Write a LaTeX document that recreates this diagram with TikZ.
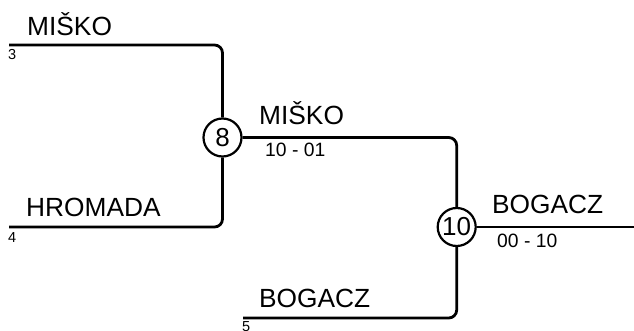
\documentclass[tikz,border=0pt]{standalone}
\usepackage{fontspec}
\setmainfont{Liberation Sans}
\begin{document}
\begin{tikzpicture}[x=1pt,y=-1pt,
  bracket/.style={line width=2.8pt,rounded corners=8pt},
  game/.style={circle,draw,line width=2.2pt,minimum size=38pt,inner sep=0pt,font=\fontsize{26}{26}\selectfont},
  player/.style={anchor=base west,inner sep=0pt,font=\fontsize{26.3}{27}\selectfont},
  score/.style={anchor=base west,inner sep=0pt,font=\fontsize{19.3}{20}\selectfont},
  seed/.style={anchor=base west,inner sep=0pt,font=\fontsize{14.5}{15}\selectfont}]
  \useasboundingbox (0,0) rectangle (634,331);
  % games
  \node[game] (g8) at (222.5,137.5) {8};
  \node[game] (g10) at (456.7,227) {10};
  % entry points
  \coordinate (p3) at (9,45);
  \coordinate (p4) at (9,227);
  \coordinate (p5) at (243,318);
  \coordinate (out) at (634,227);
  % bracket lines
  \draw[bracket] (p3) -| (g8.north);
  \draw[bracket] (p4) -| (g8.south);
  \draw[bracket] (g8.east) -| (g10.north);
  \draw[bracket] (p5) -| (g10.south);
  \draw[bracket] (g10.east) -- (out);
  % players and seeds
  \node[player] (n3) at (27,36) {MIŠKO};
  \node[seed] (s3) at (8,60) {3};
  \node[player] (n4) at (26,216) {HROMADA};
  \node[seed] (s4) at (8,242) {4};
  \node[player] (n5) at (259,307) {BOGACZ};
  \node[seed] (s5) at (242,331) {5};
  % winners and scores
  \node[player] (w8) at (259,125) {MIŠKO};
  \node[score] (r8) at (265,157) {10 - 01};
  \node[player] (w10) at (492,213) {BOGACZ};
  \node[score] (r10) at (497,247) {00 - 10};
\end{tikzpicture}
\end{document}
